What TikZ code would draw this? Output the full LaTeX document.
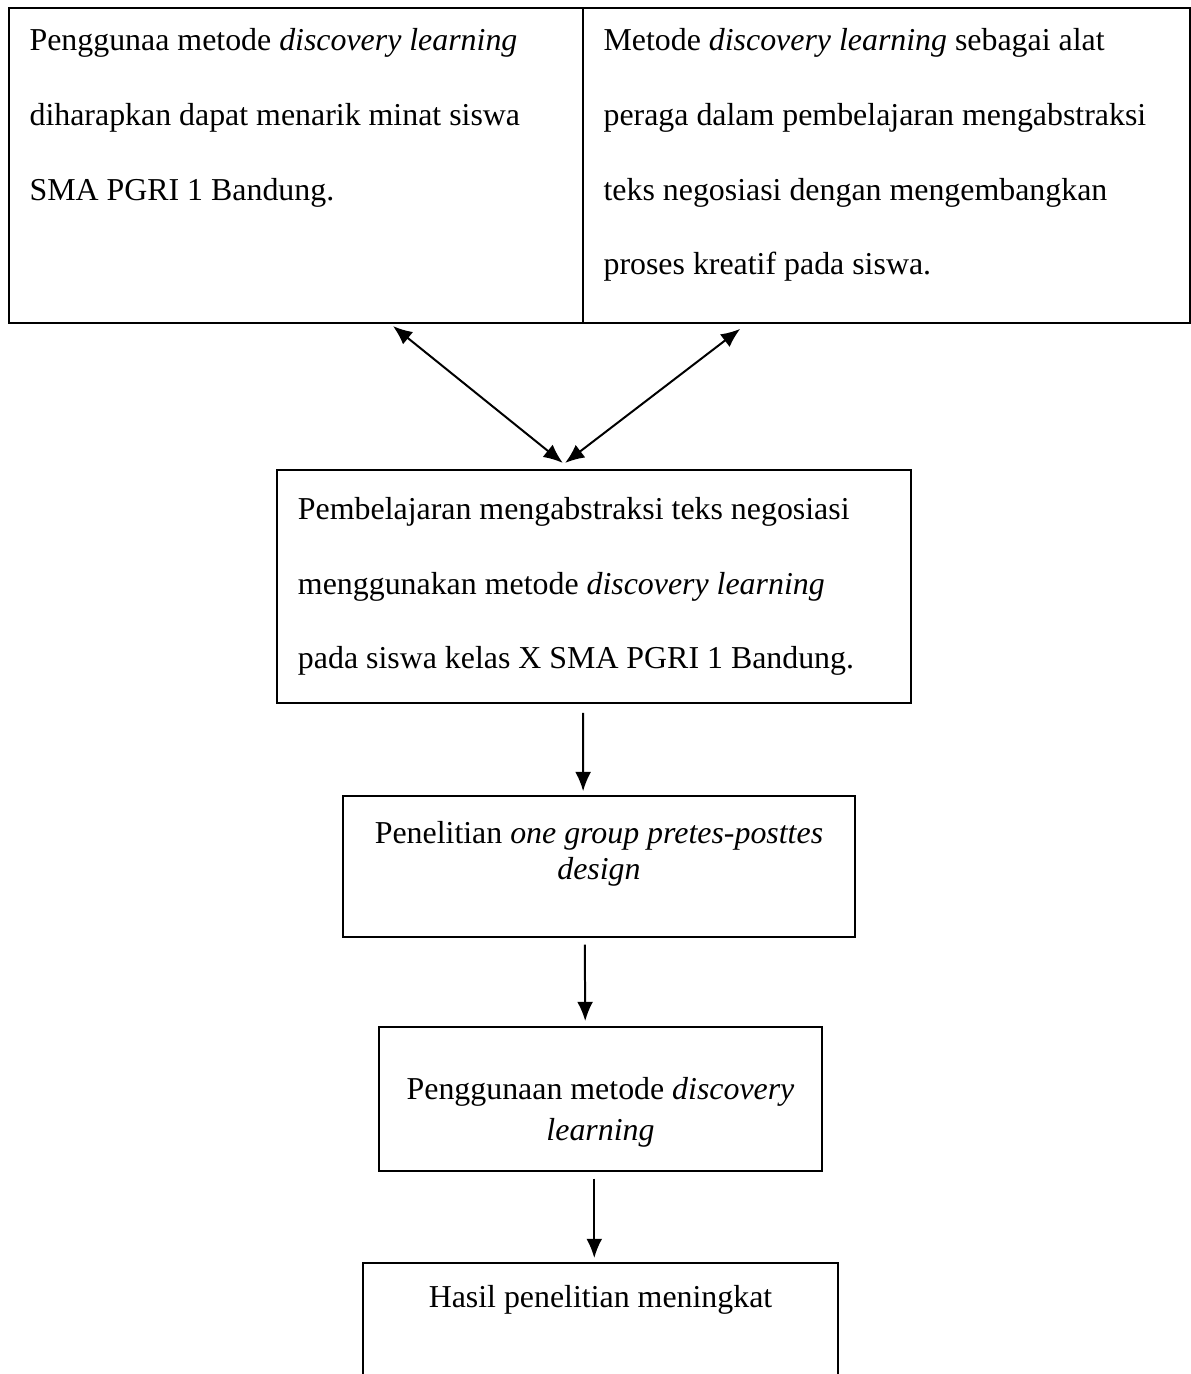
\documentclass[tikz,border=0pt]{standalone}
\usepackage{fontspec}
\setmainfont{Liberation Serif}
\usetikzlibrary{positioning,arrows.meta}

\begin{document}
\begin{tikzpicture}[
  box/.style={draw, line width=.8pt, inner sep=0pt, align=center,
    font=\fontsize{16pt}{18.4pt}\selectfont},
  wide/.style={font=\fontsize{16pt}{37.5pt}\selectfont},
  flow/.style={-{Latex[length=3.4mm, width=2.8mm]}, line width=1pt},
  both/.style={{Latex[length=3.4mm, width=2.8mm]}-{Latex[length=3.4mm, width=2.8mm]}, line width=1pt}
]
  \useasboundingbox (0, 0) rectangle (21.007, 24.235);
  \clip (0, 0) rectangle (21.007, 24.235);

  %%top table
  \node[box, minimum width=10.124cm, minimum height=5.556cm] (cellL) at (5.221, 21.316) {};
  \node[box, minimum width=10.706cm, minimum height=5.556cm] (cellR) at (15.636, 21.316) {};

    \node[wide, align=left, inner sep=0pt, below right=.37cm and .37cm of cellL.north west] (txtL)
      {Penggunaa metode \textit{discovery learning}\\
       diharapkan dapat menarik minat siswa\\
       SMA PGRI 1 Bandung.};
    \node[wide, align=left, inner sep=0pt, below right=.37cm and .37cm of cellR.north west] (txtR)
      {Metode \textit{discovery learning} sebagai alat\\
       peraga dalam pembelajaran mengabstraksi\\
       teks negosiasi dengan mengembangkan\\
       proses kreatif pada siswa.};

  %%middle
  \node[box, wide, align=flush left, text width=10.442cm, inner xsep=.37cm, minimum height=4.110cm] (b2) at (10.477, 13.890)
    {Pembelajaran mengabstraksi teks negosiasi\\
     menggunakan metode \textit{discovery learning}\\
     pada siswa kelas X SMA PGRI 1 Bandung.};

    \draw[both] ([xshift=1.71cm, yshift=-.04cm]cellL.south) to ([xshift=-.55cm, yshift=.11cm]b2.north);
    \draw[both] ([xshift=-2.58cm, yshift=-.09cm]cellR.south) to ([xshift=-.51cm, yshift=.11cm]b2.north);

  %%steps
  \node[box, minimum width=9.031cm, minimum height=2.487cm, text depth=16pt] (b3) at (10.565, 8.951)
    {Penelitian \textit{one group pretes-posttes}\\ \textit{design}};
  \node[box, font=\fontsize{16pt}{21pt}\selectfont, minimum width=7.814cm, minimum height=2.540cm, text height=45.5pt] (b4) at (10.592, 4.850)
    {Penggunaan metode \textit{discovery}\\ \textit{learning}};
  \node[box, anchor=north, minimum width=8.378cm, inner ysep=.39cm, text depth=2cm] (b5) at (10.592, 1.975)
    {Hasil penelitian meningkat};

    \draw[flow] ([xshift=-.19cm, yshift=-.16cm]b2.south) to ([xshift=-.28cm, yshift=.07cm]b3.north);
    \draw[flow] ([xshift=-.25cm, yshift=-.12cm]b3.south) to ([xshift=-.27cm, yshift=.09cm]b4.north);
    \draw[flow] ([xshift=-.11cm, yshift=-.12cm]b4.south) to ([xshift=-.11cm, yshift=.07cm]b5.north);

\end{tikzpicture}
\end{document}
